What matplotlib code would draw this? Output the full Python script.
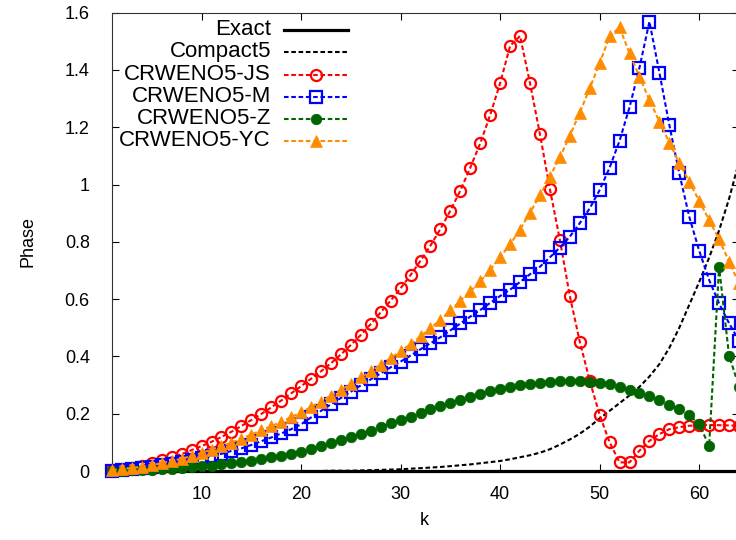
import matplotlib
matplotlib.use("Agg")
import matplotlib.pyplot as plt
from matplotlib.lines import Line2D
import numpy as np

plt.rcParams['font.family'] = ['Liberation Sans', 'DejaVu Sans']

k = np.arange(1, 65)

exact = [0.0] * 64

compact5 = [0.000, 0.000, 0.000, 0.000, 0.000, 0.000, 0.000, 0.000, 0.000, 0.000,
            0.000, 0.000, 0.000, 0.000, 0.000, 0.000, 0.000, 0.000, 0.000, 0.000,
            0.000, 0.000, 0.001, 0.001, 0.001, 0.002, 0.003, 0.004, 0.005, 0.006,
            0.008, 0.010, 0.012, 0.014, 0.017, 0.020, 0.023, 0.027, 0.031, 0.035,
            0.041, 0.048, 0.055, 0.064, 0.076, 0.092, 0.110, 0.130, 0.155, 0.184,
            0.210, 0.237, 0.264, 0.294, 0.330, 0.373, 0.430, 0.500, 0.580, 0.660,
            0.745, 0.840, 0.950, 1.080]

js = [0.002, 0.006, 0.012, 0.019, 0.027, 0.037, 0.048, 0.059, 0.073, 0.087,
      0.102, 0.119, 0.137, 0.157, 0.178, 0.199, 0.222, 0.246, 0.271, 0.296,
      0.322, 0.348, 0.376, 0.407, 0.440, 0.475, 0.513, 0.554, 0.595, 0.638,
      0.684, 0.734, 0.787, 0.845, 0.909, 0.979, 1.059, 1.144, 1.243, 1.354,
      1.484, 1.519, 1.354, 1.176, 0.984, 0.807, 0.611, 0.452, 0.315, 0.196,
      0.100, 0.030, 0.030, 0.071, 0.105, 0.129, 0.146, 0.153, 0.158, 0.160,
      0.161, 0.160, 0.159, 0.158]

m = [0.001, 0.003, 0.006, 0.010, 0.015, 0.020, 0.026, 0.032, 0.039, 0.046,
     0.053, 0.060, 0.070, 0.079, 0.091, 0.104, 0.117, 0.131, 0.146, 0.163,
     0.187, 0.210, 0.233, 0.255, 0.277, 0.299, 0.320, 0.341, 0.362, 0.382,
     0.403, 0.425, 0.446, 0.467, 0.491, 0.515, 0.539, 0.562, 0.587, 0.611,
     0.633, 0.660, 0.687, 0.713, 0.746, 0.780, 0.818, 0.865, 0.917, 0.981,
     1.059, 1.153, 1.270, 1.408, 1.569, 1.391, 1.208, 1.039, 0.888, 0.769,
     0.667, 0.585, 0.516, 0.455]

z = [0.000, 0.001, 0.002, 0.003, 0.004, 0.006, 0.008, 0.010, 0.013, 0.016,
     0.019, 0.023, 0.027, 0.031, 0.036, 0.042, 0.048, 0.054, 0.061, 0.068,
     0.077, 0.087, 0.097, 0.107, 0.118, 0.130, 0.141, 0.153, 0.166, 0.178,
     0.190, 0.203, 0.215, 0.227, 0.238, 0.249, 0.260, 0.270, 0.279, 0.287,
     0.294, 0.299, 0.304, 0.308, 0.311, 0.313, 0.314, 0.314, 0.312, 0.308,
     0.302, 0.294, 0.284, 0.273, 0.261, 0.247, 0.232, 0.215, 0.195, 0.163,
     0.088, 0.713, 0.403, 0.295]

yc = [0.003, 0.007, 0.011, 0.015, 0.021, 0.027, 0.035, 0.043, 0.052, 0.063,
      0.075, 0.087, 0.099, 0.113, 0.127, 0.142, 0.156, 0.172, 0.188, 0.205,
      0.223, 0.242, 0.263, 0.283, 0.305, 0.327, 0.349, 0.371, 0.394, 0.419,
      0.443, 0.470, 0.499, 0.528, 0.561, 0.594, 0.627, 0.662, 0.702, 0.746,
      0.791, 0.843, 0.902, 0.962, 1.028, 1.095, 1.170, 1.251, 1.336, 1.424,
      1.517, 1.549, 1.458, 1.377, 1.295, 1.220, 1.146, 1.076, 1.010, 0.943,
      0.876, 0.809, 0.731, 0.655]

labels = ["Exact", "Compact5", "CRWENO5-JS", "CRWENO5-M", "CRWENO5-Z", "CRWENO5-YC"]
xticks = [10, 20, 30, 40, 50, 60]
yticks = [0, 0.2, 0.4, 0.6, 0.8, 1.0, 1.2, 1.4, 1.6]
yticklabels = ["0", "0.2", "0.4", "0.6", "0.8", "1", "1.2", "1.4", "1.6"]

W, H = 736, 540
fig = plt.figure(figsize=(W / 100, H / 100), dpi=100)
ax = fig.add_axes([112 / W, 69 / H, 627 / W, 458.3 / H])

dash = (0, (2.2, 1.3))
lw = 1.5

styles = [
    dict(color='black', lw=2.3, ls='-', marker=None),
    dict(color='black', lw=lw, ls=dash, marker=None),
    dict(color='#ff0000', lw=lw, ls=dash, marker='o', ms=8.0, mfc='none', mew=1.6),
    dict(color='#0000ff', lw=lw, ls=dash, marker='s', ms=8.2, mfc='none', mew=1.6),
    dict(color='#006400', lw=lw, ls=dash, marker='o', ms=7.6, mfc='#006400', mew=0.5),
    dict(color='#ff8c00', lw=lw, ls=dash, marker='^', ms=8.6, mfc='#ff8c00', mew=0.5),
]
series = [exact, compact5, js, m, z, yc]

for s, st in zip(series, styles):
    st = dict(st)
    col = st.pop('color')
    ax.plot(k, s, color=col, linewidth=st.pop('lw'), linestyle=st.pop('ls'),
            marker=st.pop('marker'), markersize=st.pop('ms', 0),
            markerfacecolor=st.pop('mfc', col), markeredgecolor=col,
            markeredgewidth=st.pop('mew', 1), clip_on=False, zorder=3)

ax.set_xlim(1, 64)
ax.set_ylim(0, 1.6)
ax.set_xticks(xticks)
ax.set_yticks(yticks)
ax.set_yticklabels(yticklabels)
ax.tick_params(direction='in', length=5.2, width=0.8, top=True, right=True,
               labelsize=13, colors='black')
ax.tick_params(axis='y', pad=16)
ax.tick_params(axis='x', pad=11)
for sp in ax.spines.values():
    sp.set_linewidth(0.8)
    sp.set_color('#333333')

ax.set_xlabel("k", fontsize=13)
ax.set_ylabel("Phase", fontsize=13)
ax.xaxis.set_label_coords(0.4976, -0.0895)
ax.yaxis.set_label_coords(-0.121, 0.5)

# legend (gnuplot style: right-aligned text, sample on the right)
rows = [30, 52, 75, 97, 119, 141]
tx = (271 - 112) / 627
x0 = (284 - 112) / 627
x1 = (348 - 112) / 627
for lab, st, ry in zip(labels, styles, rows):
    yy = (471 - ry) / 458.3
    ax.text(tx, yy, lab, transform=ax.transAxes, ha='right', va='center',
            fontsize=16)
    st = dict(st)
    col = st.pop('color')
    ln = Line2D([x0, (x0 + x1) / 2, x1], [yy, yy, yy], transform=ax.transAxes,
                color=col, linewidth=st.pop('lw'), linestyle=st.pop('ls'),
                marker=st.pop('marker'), markersize=st.pop('ms', 0),
                markerfacecolor=st.pop('mfc', col), markeredgecolor=col,
                markeredgewidth=st.pop('mew', 1), markevery=[1])
    ax.add_line(ln)

fig.savefig("out.png", dpi=100)
